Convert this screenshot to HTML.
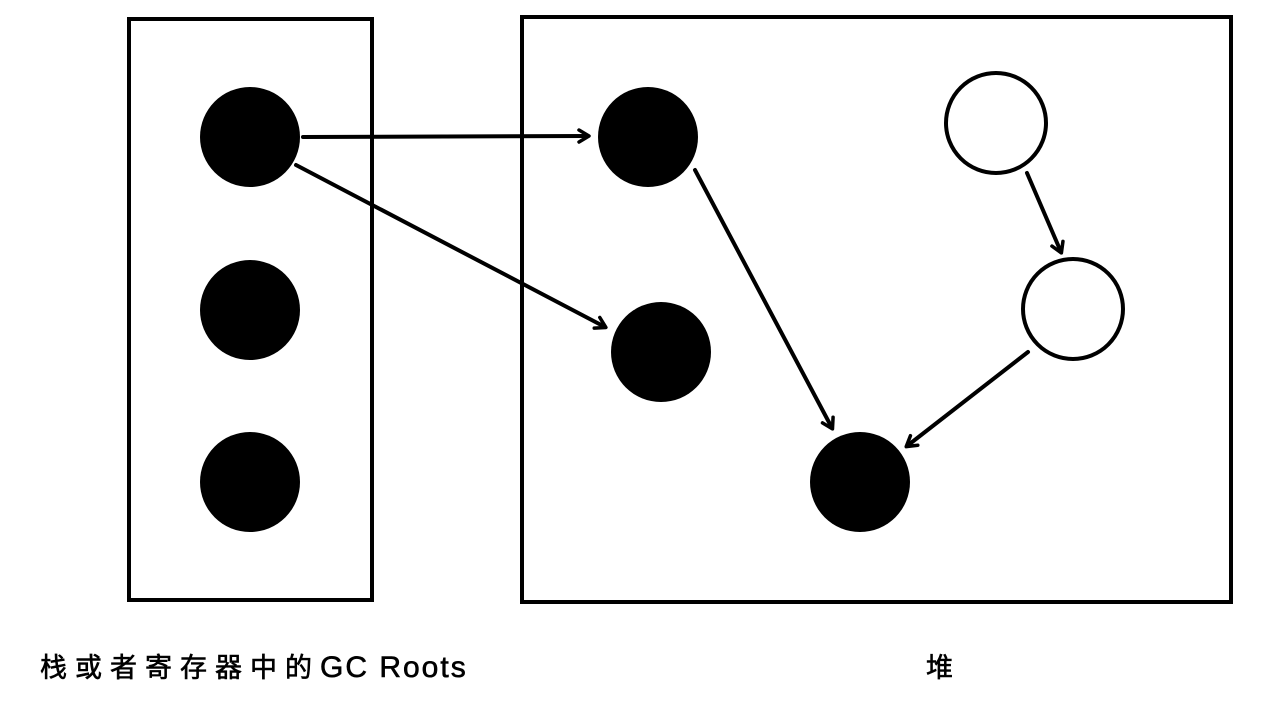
<!DOCTYPE html>
<html><head><meta charset="utf-8"><style>
html,body{margin:0;padding:0;background:#fff;}
svg{display:block;}
text{font-family:"Liberation Sans","Noto Sans CJK SC",sans-serif;font-size:27px;fill:#000;stroke:#000;stroke-width:0.6;}
</style></head><body>
<svg width="1262" height="706" viewBox="0 0 1262 706" xmlns="http://www.w3.org/2000/svg">
<defs>
<marker id="a" markerWidth="16" markerHeight="16" refX="12" refY="8" orient="auto" markerUnits="userSpaceOnUse" viewBox="0 0 16 16">
<path d="M3,2 L13,8 L3,14" fill="none" stroke="#000" stroke-width="3.5" stroke-linecap="round" stroke-linejoin="round"/>
</marker>
</defs>
<rect x="129" y="19" width="243" height="581" fill="none" stroke="#000" stroke-width="4"/>
<rect x="522" y="17" width="709" height="585" fill="none" stroke="#000" stroke-width="4"/>
<circle cx="250" cy="137" r="50"/>
<circle cx="250" cy="310" r="50"/>
<circle cx="250" cy="482" r="50"/>
<circle cx="648" cy="137" r="50"/>
<circle cx="661" cy="352" r="50"/>
<circle cx="860" cy="482" r="50"/>
<circle cx="996" cy="123" r="50" fill="#fff" stroke="#000" stroke-width="4"/>
<circle cx="1073" cy="309" r="50" fill="#fff" stroke="#000" stroke-width="4"/>
<g stroke="#000" stroke-width="4" stroke-linecap="round" fill="none">
<line x1="303" y1="137" x2="588" y2="136" marker-end="url(#a)"/>
<line x1="296" y1="165" x2="605" y2="327" marker-end="url(#a)"/>
<line x1="695" y1="170" x2="832" y2="428" marker-end="url(#a)"/>
<line x1="1027" y1="173" x2="1061" y2="252" marker-end="url(#a)"/>
<line x1="1028" y1="352" x2="907" y2="446" marker-end="url(#a)"/>
</g>
<text x="40" y="677"><tspan letter-spacing="8">栈或者寄存器中的</tspan><tspan font-size="30" letter-spacing="2">GC Roots</tspan></text>
<text x="926" y="677">堆</text>
</svg>
</body></html>
